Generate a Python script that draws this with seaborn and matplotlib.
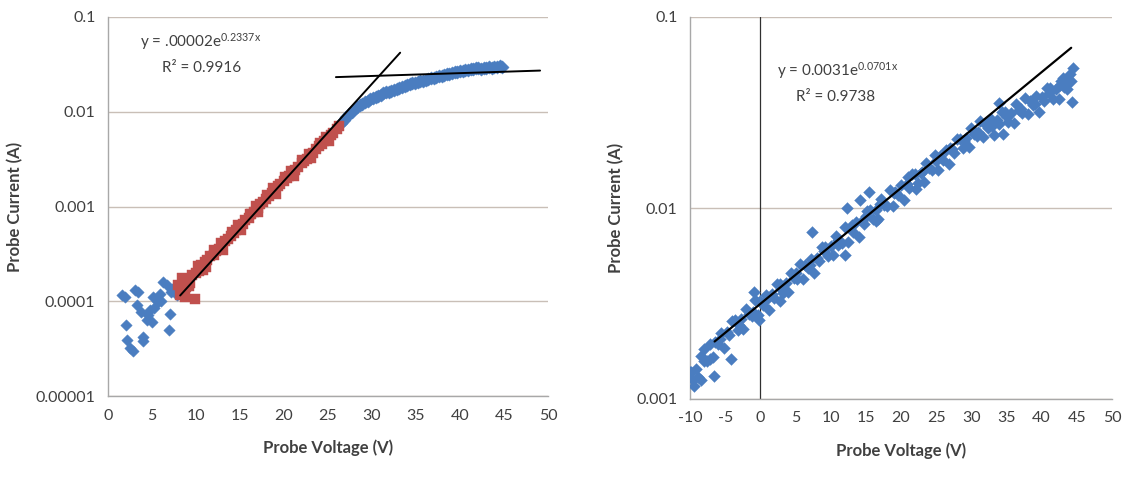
import numpy as np
import pandas as pd
import matplotlib
matplotlib.use("Agg")
import matplotlib.pyplot as plt
import seaborn as sns
from matplotlib.ticker import FixedLocator, NullLocator

# ---------------- data ----------------
# Left panel: low-voltage blue points
left_low_v = [1.6, 1.95, 3.1, 3.4, 3.3, 2.0, 2.2, 2.5, 2.8, 4.0, 3.8, 4.4, 4.0, 4.6, 4.8,
              5.2, 5.15, 5.0, 5.7, 5.9, 6.0, 6.3, 6.7, 7.2, 7.1, 6.9, 7.3, 7.85]
left_low_i = [1.15e-4, 1.1e-4, 1.31e-4, 1.25e-4, 9.1e-5, 5.6e-5, 3.9e-5, 3.2e-5, 3.0e-5,
              3.8e-5, 7.7e-5, 6.3e-5, 4.2e-5, 7.2e-5, 8.1e-5,
              8.5e-5, 1.1e-4, 6.0e-5, 9.8e-5, 1.2e-4, 1.0e-4, 1.6e-4, 1.48e-4, 1.26e-4,
              7.4e-5, 5.0e-5, 1.35e-4, 1.17e-4]

# Left panel: red (fitted) points
red_v = [8.0, 8.2, 8.5, 8.7, 9.0, 9.3, 9.6, 9.9, 10.0, 10.3, 10.6, 11.0, 11.3, 11.6, 12.0, 12.3,
         12.6, 13.0, 13.3, 13.6, 14.0, 14.3, 14.6, 15.0, 15.3, 15.6, 16.0, 16.3, 16.6,
         17.0, 17.3, 17.6, 18.0, 18.3, 18.6, 19.0, 19.3, 19.6, 20.0, 20.3, 20.6, 21.0,
         21.3, 21.6, 22.0, 22.3, 22.6, 23.0, 23.3, 23.6, 24.0, 24.3, 24.6, 25.0, 25.3,
         25.6, 26.0, 26.3,
         8.4, 9.2, 10.2, 11.1, 12.1, 13.1, 14.1, 15.1, 16.1, 17.1, 18.1, 19.1, 20.1, 21.1,
         22.1, 23.1, 24.1, 25.1, 8.9, 10.8, 12.8, 14.8, 16.8, 18.8, 20.8, 22.8, 24.8]
red_i = [1.5e-4, 1.15e-4, 1.6e-4, 1.1e-4, 1.7e-4, 1.55e-4, 1.9e-4, 1.05e-4, 2.0e-4, 2.1e-4,
         2.4e-4, 2.6e-4, 2.7e-4, 3.0e-4, 3.1e-4, 3.4e-4, 3.6e-4, 3.9e-4, 4.3e-4, 4.5e-4,
         4.9e-4, 5.3e-4, 5.6e-4, 6.2e-4, 6.6e-4, 7.2e-4, 7.6e-4, 8.3e-4, 8.8e-4, 9.7e-4,
         1.05e-3, 1.12e-3, 1.2e-3, 1.3e-3, 1.4e-3, 1.5e-3, 1.63e-3, 1.72e-3, 1.85e-3,
         2.0e-3, 2.1e-3, 2.3e-3, 2.45e-3, 2.6e-3, 2.85e-3, 3.0e-3, 3.2e-3, 3.5e-3, 3.7e-3,
         4.0e-3, 4.3e-3, 4.6e-3, 4.9e-3, 5.3e-3, 5.7e-3, 6.0e-3, 6.5e-3, 7.0e-3,
         1.75e-4, 1.45e-4, 2.35e-4, 2.3e-4, 3.5e-4, 3.5e-4, 5.4e-4, 5.6e-4, 8.4e-4, 8.7e-4,
         1.33e-3, 1.37e-3, 2.05e-3, 2.1e-3, 3.1e-3, 3.25e-3, 4.7e-3, 4.9e-3,
         1.4e-4, 2.15e-4, 4.1e-4, 6.4e-4, 1.01e-3, 1.57e-3, 2.35e-3, 3.6e-3, 5.4e-3]

# Left panel: high-voltage blue points
left_high_v = [26.5, 26.8, 27.1, 27.4, 27.7, 28.0, 28.3, 28.6, 28.9, 29.2, 29.5, 29.8, 30.1,
               30.4, 30.7, 31.0, 31.3, 31.6, 31.9, 32.2, 32.5, 32.8, 33.1, 33.4, 33.7, 34.0,
               34.3, 34.6, 34.9, 35.2, 35.5, 35.8, 36.1, 36.4, 36.7, 37.0, 37.3, 37.6, 37.9,
               38.2, 38.5, 38.8, 39.1, 39.4, 39.7, 40.0, 40.3, 40.6, 40.9, 41.2, 41.5, 41.8,
               42.1, 42.4, 42.7, 43.0, 43.3, 43.6, 43.9, 44.2, 44.5, 44.8]
left_high_i = [7.6e-3, 8.2e-3, 8.8e-3, 9.4e-3, 1.0e-2, 1.06e-2, 1.12e-2, 1.17e-2, 1.22e-2,
               1.27e-2, 1.31e-2, 1.35e-2, 1.40e-2, 1.44e-2, 1.48e-2, 1.52e-2, 1.56e-2,
               1.60e-2, 1.63e-2, 1.67e-2, 1.71e-2, 1.75e-2, 1.79e-2, 1.83e-2, 1.87e-2,
               1.91e-2, 1.95e-2, 1.99e-2, 2.02e-2, 2.06e-2, 2.10e-2, 2.13e-2, 2.17e-2,
               2.21e-2, 2.25e-2, 2.29e-2, 2.33e-2, 2.37e-2, 2.41e-2, 2.45e-2, 2.49e-2,
               2.53e-2, 2.57e-2, 2.61e-2, 2.65e-2, 2.69e-2, 2.72e-2, 2.76e-2, 2.79e-2,
               2.83e-2, 2.82e-2, 2.87e-2, 2.90e-2, 2.86e-2, 2.93e-2, 2.91e-2, 2.95e-2,
               2.90e-2, 2.98e-2, 2.94e-2, 3.01e-2, 2.96e-2]

# Left panel trend lines (end points)
fit1_v = [8.2, 33.2]
fit1_i = [1.15e-4, 4.2e-2]
fit2_v = [25.9, 49.1]
fit2_i = [2.32e-2, 2.72e-2]

# Right panel points
right_v = [-10.0, -9.6, -9.2, -8.8, -8.4, -8.0, -7.6, -7.2, -6.8, -6.4, -6.0, -5.6, -5.2, -4.8,
           -4.4, -4.0, -3.6, -3.2, -2.8, -2.4, -2.0, -1.6, -1.2, -0.8, -0.4, 0.0, 0.4, 0.8,
           1.2, 1.6, 2.0, 2.4, 2.8, 3.2, 3.6, 4.0, 4.4, 4.8, 5.2, 5.6, 6.0, 6.4, 6.8, 7.2,
           7.6, 8.0, 8.4, 8.8, 9.2, 9.6, 10.0, 10.4, 10.8, 11.2, 11.6, 12.0, 12.4, 12.8,
           13.2, 13.6, 14.0, 14.4, 14.8, 15.2, 15.6, 16.0, 16.4, 16.8, 17.2, 17.6, 18.0,
           18.4, 18.8, 19.2, 19.6, 20.0, 20.4, 20.8, 21.2, 21.6, 22.0, 22.4, 22.8, 23.2,
           23.6, 24.0, 24.4, 24.8, 25.2, 25.6, 26.0, 26.4, 26.8, 27.2, 27.6, 28.0, 28.4,
           28.8, 29.2, 29.6, 30.0, 30.4, 30.8, 31.2, 31.6, 32.0, 32.4, 32.8, 33.2, 33.6,
           34.0, 34.4, 34.8, 35.2, 35.6, 36.0, 36.4, 36.8, 37.2, 37.6, 38.0, 38.4, 38.8,
           39.2, 39.6, 40.0, 40.4, 40.8, 41.2, 41.6, 42.0, 42.4, 42.8, 43.2, 43.6, 44.0,
           -9.4, -8.5, -6.6, -5.7, -4.2, -7.1, -0.9, -0.2, 7.3, 12.1, 11.1, 14.2, 15.4,
           12.3, 16.4, 22.1, 34.5, 34.0, 44.3, 44.2, 43.0, 44.4, -8.0, -9.9, 2.8,
           -3.0, 1.0, 5.0, 9.0, 13.0, 17.0, 21.0, 25.0, 29.0, 33.0, 37.0, 41.0, 43.8,
           -1.0, 3.0, 7.0, 11.0, 15.0, 19.0, 23.0, 27.0, 31.0, 35.0, 39.0, 42.6]
right_i = [1.38e-3, 1.26e-3, 1.43e-3, 1.30e-3, 1.67e-3, 1.58e-3, 1.58e-3, 1.95e-3, 1.66e-3,
           2.0e-3, 1.95e-3, 2.21e-3, 1.85e-3, 2.25e-3, 2.17e-3, 2.57e-3, 2.58e-3, 2.31e-3,
           2.61e-3, 2.33e-3, 2.95e-3, 2.77e-3, 2.72e-3, 3.28e-3, 2.74e-3, 3.24e-3, 3.10e-3,
           3.50e-3, 2.92e-3, 3.53e-3, 3.39e-3, 4.0e-3, 4.02e-3, 3.6e-3, 4.06e-3, 3.63e-3,
           4.59e-3, 4.31e-3, 4.23e-3, 5.1e-3, 4.27e-3, 5.03e-3, 4.83e-3, 5.44e-3, 4.55e-3,
           5.5e-3, 5.27e-3, 6.22e-3, 6.25e-3, 5.6e-3, 6.31e-3, 5.65e-3, 7.14e-3, 6.7e-3,
           6.58e-3, 7.94e-3, 6.64e-3, 7.83e-3, 7.52e-3, 8.47e-3, 7.08e-3, 8.55e-3, 8.2e-3,
           9.68e-3, 9.73e-3, 8.71e-3, 9.82e-3, 8.79e-3, 1.11e-2, 1.04e-2, 1.02e-2, 1.24e-2,
           1.03e-2, 1.22e-2, 1.17e-2, 1.32e-2, 1.10e-2, 1.33e-2, 1.27e-2, 1.50e-2, 1.51e-2,
           1.35e-2, 1.52e-2, 1.36e-2, 1.71e-2, 1.61e-2, 1.58e-2, 1.90e-2, 1.59e-2, 1.87e-2,
           1.79e-2, 2.02e-2, 1.69e-2, 2.04e-2, 1.95e-2, 2.30e-2, 2.31e-2, 2.07e-2, 2.33e-2,
           2.08e-2, 2.63e-2, 2.44e-2, 2.37e-2, 2.84e-2, 2.35e-2, 2.75e-2, 2.61e-2, 2.91e-2,
           2.41e-2, 2.88e-2, 2.74e-2, 3.20e-2, 3.18e-2, 2.82e-2, 3.15e-2, 2.79e-2, 3.49e-2,
           3.24e-2, 3.16e-2, 3.77e-2, 3.12e-2, 3.65e-2, 3.47e-2, 3.86e-2, 3.20e-2, 3.83e-2,
           3.63e-2, 4.25e-2, 4.23e-2, 3.74e-2, 4.18e-2, 3.71e-2, 4.63e-2, 4.31e-2, 4.19e-2,
           5.01e-2,
           1.17e-3, 1.25e-3, 1.32e-3, 2.06e-3, 1.62e-3, 1.62e-3, 3.62e-3, 2.6e-3, 7.5e-3,
           5.7e-3, 6.4e-3, 1.1e-2, 1.21e-2, 1.0e-2, 8.5e-3, 1.26e-2, 2.45e-2, 3.55e-2,
           3.6e-2, 4.6e-2, 4.8e-2, 5.4e-2, 1.83e-3, 1.38e-3, 3.27e-3,
           2.45e-3, 3.35e-3, 4.55e-3, 5.95e-3, 8.1e-3, 1.05e-2, 1.45e-2, 1.76e-2, 2.25e-2,
           2.7e-2, 3.3e-2, 4.0e-2, 4.5e-2,
           2.85e-3, 3.75e-3, 5.0e-3, 6.8e-3, 9.1e-3, 1.2e-2, 1.55e-2, 2.05e-2, 2.5e-2,
           3.0e-2, 3.5e-2, 4.4e-2]

# Right panel trend line (end points)
fit3_v = [-6.5, 44.2]
fit3_i = [2.0e-3, 6.9e-2]

left_xticks = [0, 5, 10, 15, 20, 25, 30, 35, 40, 45, 50]
left_yticks = [1e-5, 1e-4, 1e-3, 1e-2, 1e-1]
left_ylabels = ["0.00001", "0.0001", "0.001", "0.01", "0.1"]
right_xticks = [-10, -5, 0, 5, 10, 15, 20, 25, 30, 35, 40, 45, 50]
right_yticks = [1e-3, 1e-2, 1e-1]
right_ylabels = ["0.001", "0.01", "0.1"]

# ---------------- style ----------------
sns.set_theme(style="white")
plt.rcParams["font.family"] = ["Lato", "DejaVu Sans"]
plt.rcParams["mathtext.default"] = "regular"

BLUE = "#4a7dc0"
RED = "#c0504d"
GRID = "#c9bfb7"
AXIS = "#a8a8a8"
TEXT = "#404040"

fig = plt.figure(figsize=(11.31, 4.78), dpi=100)
axL = fig.add_axes([108 / 1131, 1 - 396 / 478, 440 / 1131, 379 / 478])
axR = fig.add_axes([690 / 1131, 1 - 399 / 478, 422 / 1131, 382 / 478])

df_low = pd.DataFrame({"v": left_low_v, "i": left_low_i})
df_red = pd.DataFrame({"v": red_v, "i": red_i})
df_high = pd.DataFrame({"v": left_high_v, "i": left_high_i})
df_right = pd.DataFrame({"v": right_v, "i": right_i})

for ax in (axL, axR):
    ax.set_yscale("log")

sns.scatterplot(data=df_low, x="v", y="i", ax=axL, marker="D", s=34, color=BLUE,
                edgecolor=BLUE, linewidth=0.3, zorder=3)
sns.scatterplot(data=df_high, x="v", y="i", ax=axL, marker="D", s=46, color=BLUE,
                edgecolor=BLUE, linewidth=0.3, zorder=3)
sns.scatterplot(data=df_red, x="v", y="i", ax=axL, marker="s", s=48, color=RED,
                edgecolor=RED, linewidth=0.3, zorder=3)
sns.lineplot(x=fit1_v, y=fit1_i, ax=axL, color="black", linewidth=1.4, zorder=4)
sns.lineplot(x=fit2_v, y=fit2_i, ax=axL, color="black", linewidth=1.4, zorder=4)

sns.scatterplot(data=df_right, x="v", y="i", ax=axR, marker="D", s=36, color=BLUE,
                edgecolor=BLUE, linewidth=0.3, zorder=3)
sns.lineplot(x=fit3_v, y=fit3_i, ax=axR, color="black", linewidth=1.6, zorder=4)
axR.axvline(0, color="#303030", linewidth=0.9, zorder=2)

def style_axis(ax, xlim, ylim, xticks, yticks, ylabels):
    ax.set_xlim(*xlim)
    ax.set_ylim(*ylim)
    ax.xaxis.set_major_locator(FixedLocator(xticks))
    ax.yaxis.set_major_locator(FixedLocator(yticks))
    ax.yaxis.set_minor_locator(NullLocator())
    ax.set_yticklabels(ylabels)
    ax.set_xticklabels([str(t) for t in xticks])
    ax.grid(axis="y", color=GRID, linewidth=1.0, zorder=0)
    ax.grid(axis="x", visible=False)
    for s in ("top", "right"):
        ax.spines[s].set_visible(False)
    for s in ("left", "bottom"):
        ax.spines[s].set_color(AXIS)
        ax.spines[s].set_linewidth(1.0)
    ax.tick_params(axis="both", which="major", direction="out", length=4, width=0.8,
                   color=AXIS, labelsize=11.5, labelcolor=TEXT, pad=5)
    ax.set_xlabel("Probe Voltage (V)", fontsize=12, fontweight="bold", color=TEXT,
                  labelpad=12)
    ax.set_ylabel("Probe Current (A)", fontsize=12, fontweight="bold", color=TEXT,
                  labelpad=9)
    ax.set_facecolor("white")

style_axis(axL, (0, 50), (1e-5, 1e-1), left_xticks, left_yticks, left_ylabels)
style_axis(axR, (-10, 50), (1e-3, 1e-1), right_xticks, right_yticks, right_ylabels)

axL.text(0.073, 0.934, "y = .00002e$^{0.2337x}$", transform=axL.transAxes, fontsize=11,
         color=TEXT, ha="left", va="center")
axL.text(0.122, 0.866, "R² = 0.9916", transform=axL.transAxes, fontsize=11,
         color=TEXT, ha="left", va="center")
axR.text(0.205, 0.86, "y = 0.0031e$^{0.0701x}$", transform=axR.transAxes, fontsize=11,
         color=TEXT, ha="left", va="center")
axR.text(0.252, 0.79, "R² = 0.9738", transform=axR.transAxes, fontsize=11,
         color=TEXT, ha="left", va="center")

fig.savefig("out.png", dpi=100, facecolor="white")
